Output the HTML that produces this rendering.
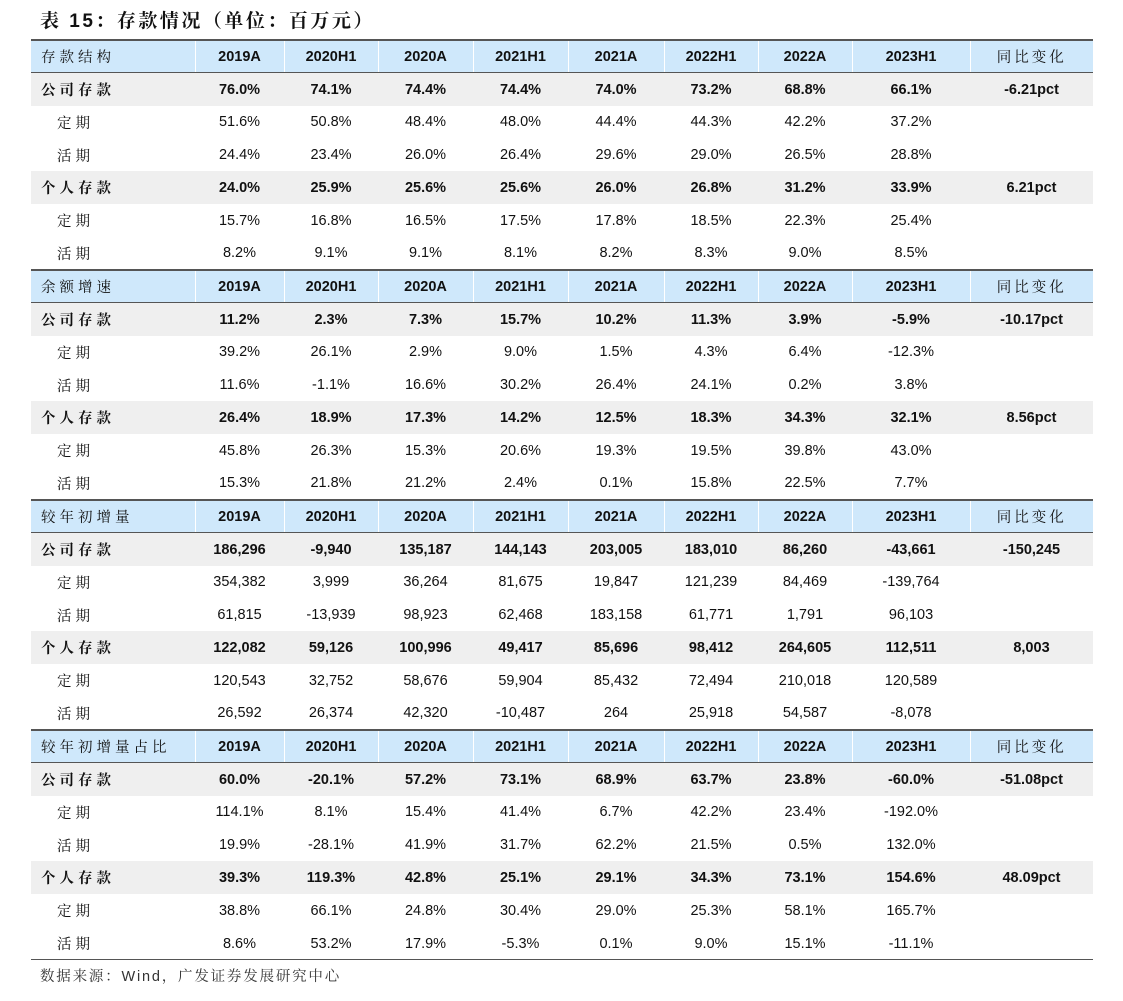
<!DOCTYPE html>
<html><head><meta charset="utf-8"><style>
body{margin:0;background:#fff;width:1123px;height:1001px;overflow:hidden;font-family:"Liberation Sans","Noto Sans CJK SC",sans-serif;color:#111}
.title{position:absolute;left:40px;top:6px;font-size:19px;font-weight:bold;letter-spacing:2.5px;font-family:"Liberation Sans","Noto Serif CJK SC",serif}
table{position:absolute;left:31px;top:39px;border-collapse:collapse;table-layout:fixed;width:1062px}
td{height:32.86px;padding:0;text-align:center;font-size:14.5px;box-sizing:border-box}
td:first-child{text-align:left;padding-left:10px;letter-spacing:4px;font-family:"Liberation Sans","Noto Serif CJK SC",serif}
tr.h td{background:#cfe8fb;font-weight:bold;border-top:2px solid #555;border-bottom:1.5px solid #555;border-left:1px solid #fff}
tr.h td:first-child{border-left:none;font-weight:normal}
tr.h td:last-child{font-weight:normal;letter-spacing:3px;font-family:"Liberation Sans","Noto Serif CJK SC",serif}
tr.b td{background:#efefef;font-weight:bold}
tr.s td:first-child{padding-left:26px}
.src{position:absolute;left:40px;top:965px;font-size:14.5px;color:#333;letter-spacing:1.8px;font-family:"Liberation Sans","Noto Serif CJK SC",serif}
.bl{position:absolute;left:31px;top:959px;width:1062px;border-top:1.5px solid #555}
</style></head><body>
<div class="title">表 15：存款情况（单位：百万元）</div>
<table>
<colgroup><col style="width:164px"><col style="width:89px"><col style="width:94px"><col style="width:95px"><col style="width:95px"><col style="width:96px"><col style="width:94px"><col style="width:94px"><col style="width:118px"><col style="width:123px"></colgroup>
<tr class="h"><td>存款结构</td><td>2019A</td><td>2020H1</td><td>2020A</td><td>2021H1</td><td>2021A</td><td>2022H1</td><td>2022A</td><td>2023H1</td><td>同比变化</td></tr>
<tr class="b"><td>公司存款</td><td>76.0%</td><td>74.1%</td><td>74.4%</td><td>74.4%</td><td>74.0%</td><td>73.2%</td><td>68.8%</td><td>66.1%</td><td>-6.21pct</td></tr>
<tr class="s"><td>定期</td><td>51.6%</td><td>50.8%</td><td>48.4%</td><td>48.0%</td><td>44.4%</td><td>44.3%</td><td>42.2%</td><td>37.2%</td><td></td></tr>
<tr class="s"><td>活期</td><td>24.4%</td><td>23.4%</td><td>26.0%</td><td>26.4%</td><td>29.6%</td><td>29.0%</td><td>26.5%</td><td>28.8%</td><td></td></tr>
<tr class="b"><td>个人存款</td><td>24.0%</td><td>25.9%</td><td>25.6%</td><td>25.6%</td><td>26.0%</td><td>26.8%</td><td>31.2%</td><td>33.9%</td><td>6.21pct</td></tr>
<tr class="s"><td>定期</td><td>15.7%</td><td>16.8%</td><td>16.5%</td><td>17.5%</td><td>17.8%</td><td>18.5%</td><td>22.3%</td><td>25.4%</td><td></td></tr>
<tr class="s"><td>活期</td><td>8.2%</td><td>9.1%</td><td>9.1%</td><td>8.1%</td><td>8.2%</td><td>8.3%</td><td>9.0%</td><td>8.5%</td><td></td></tr>
<tr class="h"><td>余额增速</td><td>2019A</td><td>2020H1</td><td>2020A</td><td>2021H1</td><td>2021A</td><td>2022H1</td><td>2022A</td><td>2023H1</td><td>同比变化</td></tr>
<tr class="b"><td>公司存款</td><td>11.2%</td><td>2.3%</td><td>7.3%</td><td>15.7%</td><td>10.2%</td><td>11.3%</td><td>3.9%</td><td>-5.9%</td><td>-10.17pct</td></tr>
<tr class="s"><td>定期</td><td>39.2%</td><td>26.1%</td><td>2.9%</td><td>9.0%</td><td>1.5%</td><td>4.3%</td><td>6.4%</td><td>-12.3%</td><td></td></tr>
<tr class="s"><td>活期</td><td>11.6%</td><td>-1.1%</td><td>16.6%</td><td>30.2%</td><td>26.4%</td><td>24.1%</td><td>0.2%</td><td>3.8%</td><td></td></tr>
<tr class="b"><td>个人存款</td><td>26.4%</td><td>18.9%</td><td>17.3%</td><td>14.2%</td><td>12.5%</td><td>18.3%</td><td>34.3%</td><td>32.1%</td><td>8.56pct</td></tr>
<tr class="s"><td>定期</td><td>45.8%</td><td>26.3%</td><td>15.3%</td><td>20.6%</td><td>19.3%</td><td>19.5%</td><td>39.8%</td><td>43.0%</td><td></td></tr>
<tr class="s"><td>活期</td><td>15.3%</td><td>21.8%</td><td>21.2%</td><td>2.4%</td><td>0.1%</td><td>15.8%</td><td>22.5%</td><td>7.7%</td><td></td></tr>
<tr class="h"><td>较年初增量</td><td>2019A</td><td>2020H1</td><td>2020A</td><td>2021H1</td><td>2021A</td><td>2022H1</td><td>2022A</td><td>2023H1</td><td>同比变化</td></tr>
<tr class="b"><td>公司存款</td><td>186,296</td><td>-9,940</td><td>135,187</td><td>144,143</td><td>203,005</td><td>183,010</td><td>86,260</td><td>-43,661</td><td>-150,245</td></tr>
<tr class="s"><td>定期</td><td>354,382</td><td>3,999</td><td>36,264</td><td>81,675</td><td>19,847</td><td>121,239</td><td>84,469</td><td>-139,764</td><td></td></tr>
<tr class="s"><td>活期</td><td>61,815</td><td>-13,939</td><td>98,923</td><td>62,468</td><td>183,158</td><td>61,771</td><td>1,791</td><td>96,103</td><td></td></tr>
<tr class="b"><td>个人存款</td><td>122,082</td><td>59,126</td><td>100,996</td><td>49,417</td><td>85,696</td><td>98,412</td><td>264,605</td><td>112,511</td><td>8,003</td></tr>
<tr class="s"><td>定期</td><td>120,543</td><td>32,752</td><td>58,676</td><td>59,904</td><td>85,432</td><td>72,494</td><td>210,018</td><td>120,589</td><td></td></tr>
<tr class="s"><td>活期</td><td>26,592</td><td>26,374</td><td>42,320</td><td>-10,487</td><td>264</td><td>25,918</td><td>54,587</td><td>-8,078</td><td></td></tr>
<tr class="h"><td>较年初增量占比</td><td>2019A</td><td>2020H1</td><td>2020A</td><td>2021H1</td><td>2021A</td><td>2022H1</td><td>2022A</td><td>2023H1</td><td>同比变化</td></tr>
<tr class="b"><td>公司存款</td><td>60.0%</td><td>-20.1%</td><td>57.2%</td><td>73.1%</td><td>68.9%</td><td>63.7%</td><td>23.8%</td><td>-60.0%</td><td>-51.08pct</td></tr>
<tr class="s"><td>定期</td><td>114.1%</td><td>8.1%</td><td>15.4%</td><td>41.4%</td><td>6.7%</td><td>42.2%</td><td>23.4%</td><td>-192.0%</td><td></td></tr>
<tr class="s"><td>活期</td><td>19.9%</td><td>-28.1%</td><td>41.9%</td><td>31.7%</td><td>62.2%</td><td>21.5%</td><td>0.5%</td><td>132.0%</td><td></td></tr>
<tr class="b"><td>个人存款</td><td>39.3%</td><td>119.3%</td><td>42.8%</td><td>25.1%</td><td>29.1%</td><td>34.3%</td><td>73.1%</td><td>154.6%</td><td>48.09pct</td></tr>
<tr class="s"><td>定期</td><td>38.8%</td><td>66.1%</td><td>24.8%</td><td>30.4%</td><td>29.0%</td><td>25.3%</td><td>58.1%</td><td>165.7%</td><td></td></tr>
<tr class="s"><td>活期</td><td>8.6%</td><td>53.2%</td><td>17.9%</td><td>-5.3%</td><td>0.1%</td><td>9.0%</td><td>15.1%</td><td>-11.1%</td><td></td></tr>
</table>
<div class="bl"></div>
<div class="src">数据来源：Wind，广发证券发展研究中心</div>
</body></html>
